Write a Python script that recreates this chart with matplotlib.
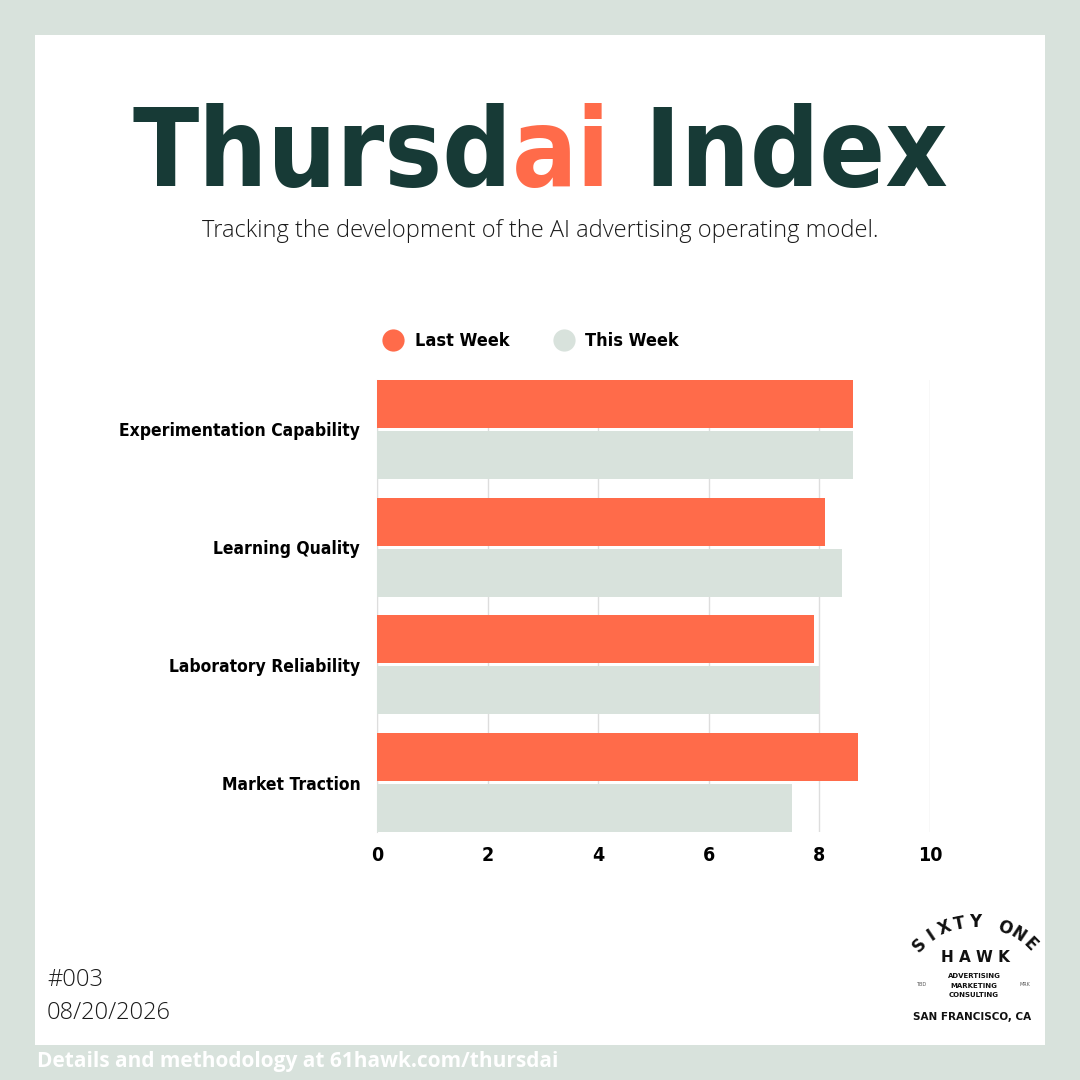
import numpy as np
import matplotlib
matplotlib.use("Agg")
import matplotlib.pyplot as plt
from matplotlib.patches import Rectangle
from matplotlib.lines import Line2D

# data
categories = ["Experimentation Capability", "Learning Quality",
              "Laboratory Reliability", "Market Traction"]
last_week = [8.6, 8.1, 7.9, 8.7]
this_week = [8.6, 8.4, 8.0, 7.5]
x_ticks = [0, 2, 4, 6, 8, 10]

ORANGE = "#FF6B4A"
GREY = "#D8E2DC"
DARK = "#173A36"
COND = ["DejaVu Sans"]
LIGHT = ["Open Sans", "DejaVu Sans"]

W = H = 1080
fig = plt.figure(figsize=(10.8, 10.8), dpi=100, facecolor=GREY)

def fx(px):
    return px / W

def fy(py):
    return 1 - py / H

# white card
fig.patches.append(Rectangle((fx(35), fy(1045)), fx(1010), 1010 / H,
                             transform=fig.transFigure, facecolor="white",
                             edgecolor="none", zorder=-5))

# title in three coloured pieces, sized to span ~815 px
parts = [("Thursd", DARK), ("ai", ORANGE), (" Index", DARK)]
title_kw = dict(fontweight="heavy", family=COND, fontstretch="condensed",
                va="baseline")
renderer = fig.canvas.get_renderer()

def measure(size):
    ws = []
    for s, c in parts:
        t = fig.text(0, 0, s, fontsize=size, **title_kw)
        ws.append(t.get_window_extent(renderer).width)
        t.remove()
    return ws

widths = measure(100)
size = 100 * 815 / sum(widths)
widths = measure(size)
x0 = (W - sum(widths)) / 2
for (s, c), w in zip(parts, widths):
    fig.text(fx(x0), fy(186), s, color=c, fontsize=size, **title_kw)
    x0 += w

fig.text(0.5, fy(231), "Tracking the development of the AI advertising operating model.",
         ha="center", va="center", fontsize=17, family=LIGHT,
         fontweight="light", color="#1a1a1a")

# chart
ax = fig.add_axes([fx(377), fy(832), fx(930 - 377), (832 - 380) / H])
y = np.arange(len(categories))
h = 0.407
off = 0.216
ax.barh(y - off, last_week, height=h, color=ORANGE, zorder=3)
ax.barh(y + off, this_week, height=h, color=GREY, zorder=3)
ax.set_xlim(0, 10)
ax.set_ylim(len(categories) - 1 + 0.4195, -0.4195)
ax.set_xticks(x_ticks)
ax.set_xticklabels([str(v) for v in x_ticks], fontsize=14, fontweight="heavy",
                   family=COND, fontstretch="condensed")
ax.set_yticks(y)
ax.set_yticklabels(categories, fontsize=12.5, fontweight="heavy", family=COND,
                   fontstretch="condensed")
ax.tick_params(axis="both", length=0)
ax.tick_params(axis="x", pad=10)
ax.tick_params(axis="y", pad=12)
ax.grid(axis="x", color="#DDDDDD", linewidth=1, zorder=0)
ax.set_axisbelow(True)
for side in ["top", "right", "bottom"]:
    ax.spines[side].set_visible(False)
ax.spines["left"].set_color("#DDDDDD")
ax.set_facecolor("none")

handles = [Line2D([], [], marker="o", linestyle="none", markersize=16,
                  markerfacecolor=ORANGE, markeredgecolor="none"),
           Line2D([], [], marker="o", linestyle="none", markersize=16,
                  markerfacecolor=GREY, markeredgecolor="none")]
fig.legend(handles, ["Last Week", "This Week"], loc="center",
           bbox_to_anchor=(fx(527), fy(341)), ncol=2, frameon=False,
           prop=dict(family=COND, weight="heavy", size=13, stretch="condensed"),
           handletextpad=0.2, columnspacing=2.0)

# issue / date
fig.text(fx(47), fy(980), "#003", fontsize=17, family=LIGHT, fontweight="light",
         va="center", color="#1a1a1a")
fig.text(fx(47), fy(1013), "08/20/2026", fontsize=17, family=LIGHT,
         fontweight="light", va="center", color="#1a1a1a")

# footer
fig.text(fx(37), fy(1062), "Details and methodology at 61hawk.com/thursdai",
         fontsize=15, fontweight="bold", family=LIGHT, color="white",
         va="center")

# logo
cx, cy, r = 975, 1000, 78
word = "SIXTY ONE"
angles = np.linspace(-45, 45, len(word))
for ch, a in zip(word, angles):
    px = cx + r * np.sin(np.radians(a))
    py = cy - r * np.cos(np.radians(a))
    fig.text(fx(px), fy(py), ch, rotation=-a, ha="center", va="center",
             fontsize=12, fontweight="bold", family=["DejaVu Sans"],
             color="#111111", rotation_mode="anchor")
fig.text(fx(975), fy(957), "H A W K", ha="center", va="center", fontsize=11,
         fontweight="bold", family=["DejaVu Sans"], color="#111111")
for i, s in enumerate(["ADVERTISING", "MARKETING", "CONSULTING"]):
    fig.text(fx(974), fy(976 + 9.5 * i), s, ha="center", va="center",
             fontsize=5, fontweight="bold", family=["DejaVu Sans"],
             color="#111111")
fig.text(fx(921), fy(984), "TBD", ha="center", va="center", fontsize=3.5,
         family=["DejaVu Sans"], color="#555555")
fig.text(fx(1025), fy(984), "MRK", ha="center", va="center", fontsize=3.5,
         family=["DejaVu Sans"], color="#555555")
fig.text(fx(972), fy(1017), "SAN FRANCISCO, CA", ha="center", va="center",
         fontsize=7.5, fontweight="bold", family=["DejaVu Sans"],
         color="#111111")

fig.savefig("out.png", dpi=100, facecolor=GREY)
